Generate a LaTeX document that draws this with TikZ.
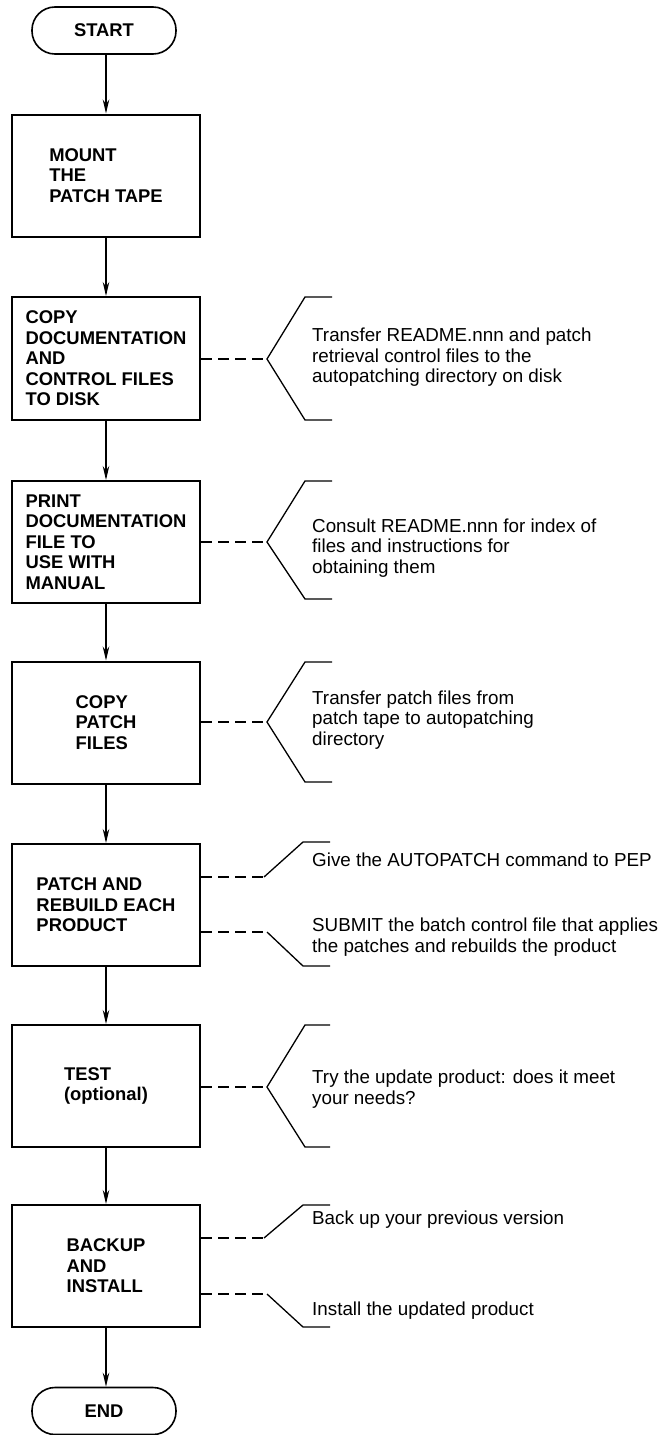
\documentclass[tikz,border=0pt]{standalone}
\usepackage{fontspec}
\setmainfont{Liberation Sans}
\usetikzlibrary{arrows.meta}
\begin{document}
\begin{tikzpicture}[x=1pt,y=-1pt,
  box/.style={draw,line width=2pt,minimum width=188pt,minimum height=122pt,align=left,inner sep=0pt,
    font=\bfseries\fontsize{18.4}{20.5}\selectfont},
  term/.style={draw,line width=1.6pt,rounded corners=23pt,minimum width=144pt,minimum height=47pt,inner sep=0pt,
    font=\bfseries\fontsize{18.4}{20.5}\selectfont},
  arr/.style={line width=1.1pt,-{Stealth[length=14pt,width=6.5pt]}},
  lead/.style={line width=1.2pt,dash pattern=on 11pt off 6pt},
  brk/.style={line width=1.3pt},
  note/.style={anchor=west,align=left,inner sep=0pt,font=\fontsize{18.8}{20.5}\selectfont}]
\useasboundingbox (0,0) rectangle (663,1435);

% flow nodes
\node[term] (start) at (104,30.5) {START};
\node[box] (mount) at (106,175.5) {MOUNT\\THE\\PATCH TAPE};
\node[box,minimum height=123pt] (copydoc) at (106,358.5) {COPY\\DOCUMENTATION\\AND\\CONTROL FILES\\TO DISK};
\node[box] (printdoc) at (106,542) {PRINT\\DOCUMENTATION\\FILE TO\\USE WITH\\MANUAL};
\node[box] (copypatch) at (106,722.5) {COPY\\PATCH\\FILES};
\node[box] (patch) at (106,905) {PATCH AND\\REBUILD EACH\\PRODUCT};
\node[box] (test) at (106,1086) {TEST\\(optional)};
\node[box] (backup) at (106,1266) {BACKUP\\AND\\INSTALL};
\node[term] (end) at (104,1411) {END};

% flow arrows
\draw[arr] (start.south -| mount.north) -- (mount.north);
\draw[arr] (mount) -- (copydoc);
\draw[arr] (copydoc) -- (printdoc);
\draw[arr] (printdoc) -- (copypatch);
\draw[arr] (copypatch) -- (patch);
\draw[arr] (patch) -- (test);
\draw[arr] (test) -- (backup);
\draw[arr] (backup.south) -- (backup.south |- end.north);

% bracket 1
\coordinate (v1) at (267,359);
\draw[brk] (332,297) -- (305,297) -- (v1) -- (305,420) -- (332,420);
\draw[lead] (copydoc.east |- v1) -- (v1);
\node[note] (n1) at (312,357.5) {Transfer README.nnn and patch\\retrieval control files to the\\autopatching directory on disk};

% bracket 2
\coordinate (v2) at (267,542);
\draw[brk] (332,481) -- (305,481) -- (v2) -- (305,599) -- (332,599);
\draw[lead] (printdoc.east |- v2) -- (v2);
\node[note] (n2) at (312,548) {Consult README.nnn for index of\\files and instructions for\\obtaining them};

% bracket 3
\coordinate (v3) at (267,722);
\draw[brk] (332,662) -- (305,662) -- (v3) -- (305,782) -- (332,782);
\draw[lead] (copypatch.east |- v3) -- (v3);
\node[note] (n3) at (312,720) {Transfer patch files from\\patch tape to autopatching\\directory};

% brackets 4
\coordinate (v4a) at (264,877);
\draw[brk] (330,842) -- (303,842) -- (v4a);
\draw[lead] (patch.east |- v4a) -- (v4a);
\node[note] (n4a) at (312,860) {Give the AUTOPATCH command to PEP};
\coordinate (v4b) at (267,932);
\draw[brk] (v4b) -- (303,966) -- (330,966);
\draw[lead] (patch.east |- v4b) -- (v4b);
\node[note] (n4b) at (312,937) {SUBMIT the batch control file that applies\\the patches and rebuilds the product};

% bracket 5
\coordinate (v5) at (267,1087);
\draw[brk] (330,1025) -- (305,1025) -- (v5) -- (305,1147) -- (330,1147);
\draw[lead] (test.east |- v5) -- (v5);
\node[note] (n5) at (312,1089) {Try the update product: does it meet\\your needs?};

% brackets 6
\coordinate (v6a) at (264,1238);
\draw[brk] (330,1205) -- (303,1205) -- (v6a);
\draw[lead] (backup.east |- v6a) -- (v6a);
\node[note] (n6a) at (312,1220) {Back up your previous version};
\coordinate (v6b) at (267,1294);
\draw[brk] (v6b) -- (303,1327) -- (330,1327);
\draw[lead] (backup.east |- v6b) -- (v6b);
\node[note] (n6b) at (312,1311) {Install the updated product};
\end{tikzpicture}
\end{document}
